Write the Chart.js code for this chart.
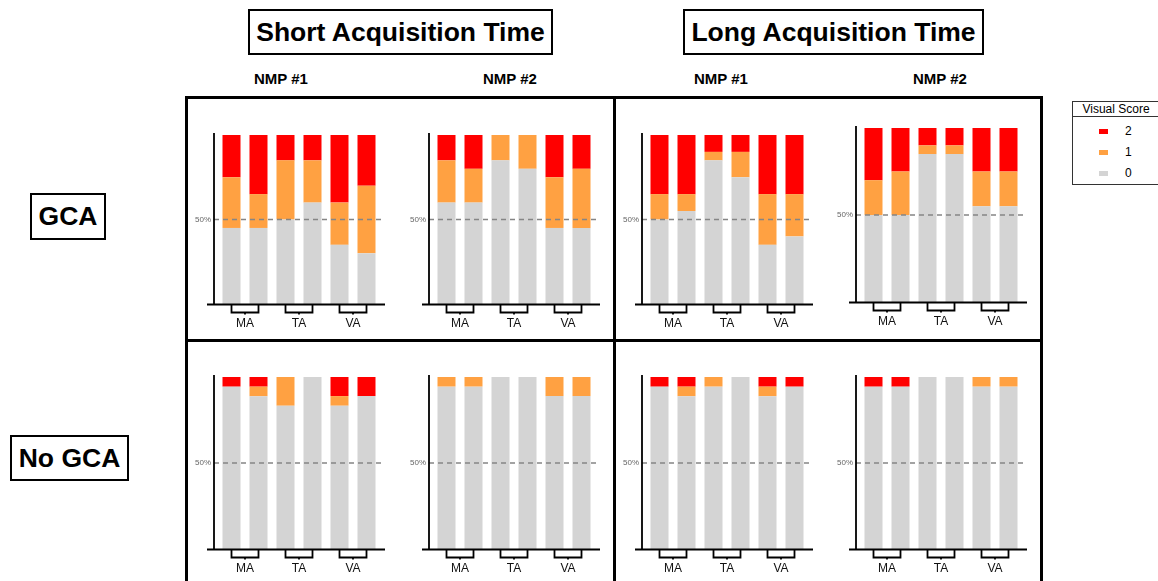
<!DOCTYPE html>
<html>
<head>
<meta charset="utf-8">
<title>Visual Score by acquisition time and GCA status</title>
<script src="https://cdn.jsdelivr.net/npm/chart.js@4.4.1/dist/chart.umd.min.js"></script>
<style>
  html, body { margin: 0; padding: 0; background: #fff; }
  body { width: 1158px; height: 581px; position: relative; overflow: hidden;
         font-family: 'Liberation Sans', Arial, sans-serif; color: #000; }
  .boxed { position: absolute; border: 2.5px solid #000; box-sizing: border-box;
           display: flex; align-items: center; justify-content: center;
           font-weight: bold; font-size: 26.5px; white-space: nowrap; }
  .nmp { position: absolute; font-weight: bold; font-size: 15px; transform: translateX(-50%); white-space: nowrap; }
  .rule { position: absolute; background: #000; }
  #legend { position: absolute; left: 1072px; top: 101px; width: 92px; height: 84px;
            border: 1.3px solid #333; box-sizing: border-box; font-size: 12px; color: #000; }
  #legend .head { height: 14px; border-bottom: 1.3px solid #333; text-align: center; line-height: 14px; padding-right: 4px; }
  #legend .item { position: absolute; left: 0; height: 12px; width: 100%; }
  #legend .sw { position: absolute; left: 26px; top: 4px; width: 9px; height: 5px; }
  #legend .lab { position: absolute; left: 52px; top: 0; line-height: 12px; color: #000; }
  canvas { position: absolute; }
</style>
</head>
<body>

<!-- column headers -->
<div class="boxed" style="left:248px; top:9px; width:305px; height:46px;">Short Acquisition Time</div>
<div class="boxed" style="left:683px; top:9px; width:301px; height:46px;">Long Acquisition Time</div>
<div class="nmp" style="left:281px; top:70px;">NMP #1</div>
<div class="nmp" style="left:510px; top:70px;">NMP #2</div>
<div class="nmp" style="left:721px; top:70px;">NMP #1</div>
<div class="nmp" style="left:940px; top:70px;">NMP #2</div>

<!-- row headers -->
<div class="boxed" style="left:30px; top:193px; width:76px; height:47px;">GCA</div>
<div class="boxed" style="left:10px; top:435px; width:119px; height:46px;">No GCA</div>

<!-- panel frame -->
<div class="rule" style="left:185px; top:96px; width:858px; height:3px;"></div>
<div class="rule" style="left:185px; top:96px; width:3px; height:500px;"></div>
<div class="rule" style="left:1040px; top:96px; width:3px; height:500px;"></div>
<div class="rule" style="left:613px; top:96px; width:3px; height:500px;"></div>
<div class="rule" style="left:185px; top:339px; width:858px; height:3px;"></div>

<div id="legend"><div class="head">Visual Score</div></div>

<script>
// Bar categories: two readings per anatomical region
const CATEGORIES = ['MA 1', 'MA 2', 'TA 1', 'TA 2', 'VA 1', 'VA 2'];
const REGIONS = ['MA', 'TA', 'VA'];
const SCORE_NAMES = ['2', '1', '0'];
const SCORE_COLORS = { '2': '#ff0000', '1': '#ffa142', '0': '#d4d4d4' };
const REFERENCE_LEVEL = 50;

// Percent of cases per visual score (0 / 1 / 2)
// GCA, short acquisition, NMP #1
const gcaShortN1Score0 = [45, 45, 50, 60, 35, 30];
const gcaShortN1Score1 = [30, 20, 35, 25, 25, 40];
const gcaShortN1Score2 = [25, 35, 15, 15, 40, 30];
// GCA, short acquisition, NMP #2
const gcaShortN2Score0 = [60, 60, 85, 80, 45, 45];
const gcaShortN2Score1 = [25, 20, 15, 20, 30, 35];
const gcaShortN2Score2 = [15, 20, 0, 0, 25, 20];
// GCA, long acquisition, NMP #1
const gcaLongN1Score0 = [50, 55, 85, 75, 35, 40];
const gcaLongN1Score1 = [15, 10, 5, 15, 30, 25];
const gcaLongN1Score2 = [35, 35, 10, 10, 35, 35];
// GCA, long acquisition, NMP #2
const gcaLongN2Score0 = [50, 50, 85, 85, 55, 55];
const gcaLongN2Score1 = [20, 25, 5, 5, 20, 20];
const gcaLongN2Score2 = [30, 25, 10, 10, 25, 25];
// No GCA, short acquisition, NMP #1
const noGcaShortN1Score0 = [94.4, 88.8, 83.3, 100, 83.3, 88.9];
const noGcaShortN1Score1 = [0, 5.6, 16.7, 0, 5.6, 0];
const noGcaShortN1Score2 = [5.6, 5.6, 0, 0, 11.1, 11.1];
// No GCA, short acquisition, NMP #2
const noGcaShortN2Score0 = [94.4, 94.4, 100, 100, 88.9, 88.9];
const noGcaShortN2Score1 = [5.6, 5.6, 0, 0, 11.1, 11.1];
const noGcaShortN2Score2 = [0, 0, 0, 0, 0, 0];
// No GCA, long acquisition, NMP #1
const noGcaLongN1Score0 = [94.4, 88.8, 94.4, 100, 88.8, 94.4];
const noGcaLongN1Score1 = [0, 5.6, 5.6, 0, 5.6, 0];
const noGcaLongN1Score2 = [5.6, 5.6, 0, 0, 5.6, 5.6];
// No GCA, long acquisition, NMP #2
const noGcaLongN2Score0 = [94.4, 94.4, 100, 100, 94.4, 94.4];
const noGcaLongN2Score1 = [0, 0, 0, 0, 5.6, 5.6];
const noGcaLongN2Score2 = [5.6, 5.6, 0, 0, 0, 0];

// Legend
(function buildLegend() {
  const box = document.getElementById('legend');
  const rows = [29, 50, 71];
  SCORE_NAMES.forEach((name, i) => {
    const item = document.createElement('div');
    item.className = 'item';
    item.style.top = (rows[i] - 6) + 'px';
    item.innerHTML = '<span class="sw" style="background:' + SCORE_COLORS[name] + '"></span>' +
                     '<span class="lab">' + name + '</span>';
    box.appendChild(item);
  });
})();

// Axis lines, 50% reference line and region brackets
const panelDecor = {
  id: 'panelDecor',
  afterDatasetsDraw(chart) {
    const { ctx, chartArea: a, scales } = chart;
    const x = scales.x, y = scales.y;
    ctx.save();
    const yRef = y.getPixelForValue(REFERENCE_LEVEL);
    ctx.strokeStyle = '#858585';
    ctx.lineWidth = 1.5;
    ctx.setLineDash([5, 4]);
    ctx.beginPath();
    ctx.moveTo(a.left - 4, yRef);
    ctx.lineTo(a.right + 5, yRef);
    ctx.stroke();
    ctx.setLineDash([]);

    ctx.strokeStyle = '#000';
    ctx.lineWidth = 1.8;
    const yTop = y.getPixelForValue(100);
    const base = a.bottom + 0.5;
    ctx.beginPath();
    ctx.moveTo(a.left - 4, yTop - 2);
    ctx.lineTo(a.left - 4, base);
    ctx.moveTo(a.left - 11, base);
    ctx.lineTo(a.right + 5, base);
    ctx.stroke();

    const depth = 8;
    for (let k = 0; k < REGIONS.length; k++) {
      const x1 = x.getPixelForValue(2 * k);
      const x2 = x.getPixelForValue(2 * k + 1);
      const xm = (x1 + x2) / 2;
      ctx.beginPath();
      ctx.moveTo(x1, base);
      ctx.lineTo(x1, base + depth);
      ctx.lineTo(x2, base + depth);
      ctx.lineTo(x2, base);
      ctx.moveTo(xm, base + depth);
      ctx.lineTo(xm, base + depth + 2);
      ctx.stroke();
    }
    ctx.restore();
  }
};

const Y_AXIS_W = 30, PAD_TOP = 8, PAD_RIGHT = 16, X_AXIS_H = 32, AREA_W = 162;

function makePanel(areaLeft, areaTop, areaH, s0, s1, s2) {
  const canvas = document.createElement('canvas');
  const w = Y_AXIS_W + AREA_W + PAD_RIGHT;
  const h = PAD_TOP + areaH + X_AXIS_H;
  canvas.width = w;
  canvas.height = h;
  canvas.style.width = w + 'px';
  canvas.style.height = h + 'px';
  canvas.style.left = (areaLeft - Y_AXIS_W) + 'px';
  canvas.style.top = (areaTop - PAD_TOP) + 'px';
  document.body.appendChild(canvas);

  const series = { '0': s0, '1': s1, '2': s2 };
  const datasets = ['0', '1', '2'].map(name => ({
    label: name,
    data: series[name],
    backgroundColor: SCORE_COLORS[name],
    borderWidth: 0,
    categoryPercentage: 1,
    barPercentage: 0.667
  }));

  new Chart(canvas, {
    type: 'bar',
    data: { labels: CATEGORIES, datasets },
    options: {
      responsive: false,
      animation: false,
      devicePixelRatio: 1,
      layout: { padding: { top: PAD_TOP, right: PAD_RIGHT, left: 0, bottom: 0 } },
      plugins: { legend: { display: false }, tooltip: { enabled: false } },
      scales: {
        x: { stacked: true, display: false, offset: true },
        xl: {
          type: 'category',
          labels: REGIONS,
          position: 'bottom',
          offset: true,
          grid: { display: false, drawTicks: false },
          border: { display: false },
          ticks: { color: '#111', font: { family: "'Liberation Sans', Arial, sans-serif", size: 12 },
                   padding: 12, autoSkip: false, maxRotation: 0 },
          afterFit(scale) { scale.height = X_AXIS_H; }
        },
        y: {
          stacked: true,
          min: 0,
          max: 100,
          grid: { display: false, drawTicks: false },
          border: { display: false },
          afterBuildTicks(scale) { scale.ticks = [{ value: REFERENCE_LEVEL }]; },
          ticks: { color: '#666', font: { family: "'Liberation Sans', Arial, sans-serif", size: 8 },
                   padding: 7, callback: v => v + '%' },
          afterFit(scale) {
            scale.width = Y_AXIS_W;
            scale.paddingTop = 0;
            scale.paddingBottom = 0;
          }
        }
      }
    },
    plugins: [panelDecor]
  });
}

// Top row: GCA
makePanel(218, 135, 169, gcaShortN1Score0, gcaShortN1Score1, gcaShortN1Score2);
makePanel(433, 135, 169, gcaShortN2Score0, gcaShortN2Score1, gcaShortN2Score2);
makePanel(646, 135, 169, gcaLongN1Score0, gcaLongN1Score1, gcaLongN1Score2);
makePanel(860, 128, 174, gcaLongN2Score0, gcaLongN2Score1, gcaLongN2Score2);
// Bottom row: No GCA
makePanel(218, 377, 172, noGcaShortN1Score0, noGcaShortN1Score1, noGcaShortN1Score2);
makePanel(433, 377, 172, noGcaShortN2Score0, noGcaShortN2Score1, noGcaShortN2Score2);
makePanel(646, 377, 172, noGcaLongN1Score0, noGcaLongN1Score1, noGcaLongN1Score2);
makePanel(860, 377, 172, noGcaLongN2Score0, noGcaLongN2Score1, noGcaLongN2Score2);
</script>
</body>
</html>
